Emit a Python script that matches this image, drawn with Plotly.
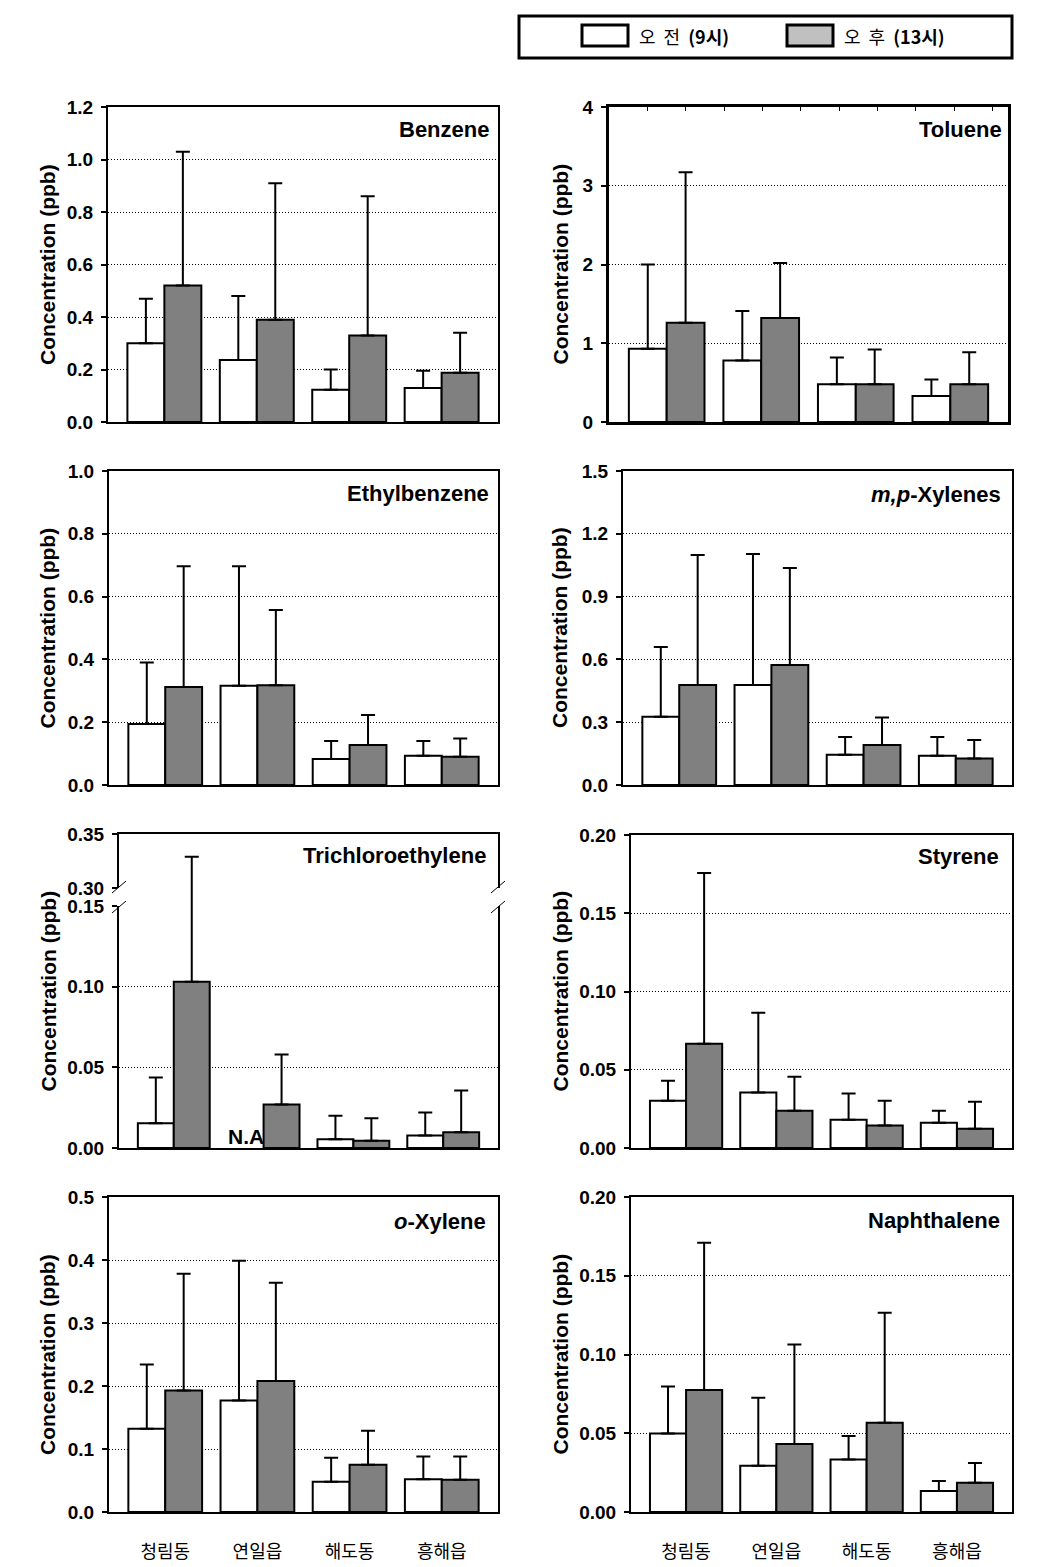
import plotly.graph_objects as go

W, H = 1042, 1567

sites = ["청림동", "연일읍", "해도동", "흥해읍"]
series_names = ["오 전 (9시)", "오 후 (13시)"]

benzene_am = [0.300, 0.236, 0.123, 0.130]
benzene_am_sd = [0.170, 0.244, 0.077, 0.065]
benzene_pm = [0.520, 0.390, 0.330, 0.188]
benzene_pm_sd = [0.510, 0.520, 0.530, 0.152]

toluene_am = [0.93, 0.78, 0.48, 0.33]
toluene_am_sd = [1.07, 0.63, 0.34, 0.21]
toluene_pm = [1.26, 1.32, 0.48, 0.48]
toluene_pm_sd = [1.91, 0.70, 0.44, 0.405]

ethylbenzene_am = [0.194, 0.316, 0.083, 0.093]
ethylbenzene_am_sd = [0.196, 0.381, 0.057, 0.047]
ethylbenzene_pm = [0.312, 0.318, 0.127, 0.090]
ethylbenzene_pm_sd = [0.385, 0.239, 0.096, 0.058]

mpxylene_am = [0.326, 0.478, 0.145, 0.140]
mpxylene_am_sd = [0.333, 0.626, 0.084, 0.089]
mpxylene_pm = [0.478, 0.573, 0.191, 0.126]
mpxylene_pm_sd = [0.621, 0.464, 0.131, 0.089]

tce_am = [0.0153, None, 0.0054, 0.0078]
tce_am_sd = [0.0284, None, 0.0146, 0.0142]
tce_pm = [0.103, 0.027, 0.0045, 0.0097]
tce_pm_sd = [0.226, 0.031, 0.0139, 0.0259]

styrene_am = [0.0302, 0.0355, 0.0181, 0.0162]
styrene_am_sd = [0.0128, 0.0509, 0.0168, 0.0076]
styrene_pm = [0.0666, 0.0238, 0.0143, 0.0123]
styrene_pm_sd = [0.1091, 0.0217, 0.0159, 0.0173]

oxylene_am = [0.132, 0.177, 0.048, 0.052]
oxylene_am_sd = [0.102, 0.222, 0.038, 0.036]
oxylene_pm = [0.193, 0.208, 0.075, 0.051]
oxylene_pm_sd = [0.185, 0.156, 0.054, 0.037]

naph_am = [0.0498, 0.0294, 0.0333, 0.0133]
naph_am_sd = [0.0299, 0.0431, 0.0150, 0.0064]
naph_pm = [0.0775, 0.0432, 0.0566, 0.0186]
naph_pm_sd = [0.0935, 0.0632, 0.0699, 0.0125]

AM_COLOR = "white"
PM_COLOR = "#808080"
PM_LEGEND_COLOR = "#C0C0C0"
LATIN = "Liberation Sans, Arial, sans-serif"
KOREAN = "Noto Sans CJK KR, Liberation Sans, sans-serif"


def xdom(a, b):
    return [a / W, b / W]


def ydom(top, bottom):
    return [1 - bottom / H, 1 - top / H]


def xr(i):
    return "x" if i == 1 else f"x{i}"


def yr(i):
    return "y" if i == 1 else f"y{i}"


panels = [
    dict(title="<b>Benzene</b>", am=benzene_am, am_sd=benzene_am_sd, pm=benzene_pm, pm_sd=benzene_pm_sd,
         xpx=(108, 498), ypx=(107, 422), yrange=[0, 1.2], dtick=0.2, fmt=".1f", lw=2, tx=0.981, ty=0.928,
         bottom=False, col=0),
    dict(title="<b>Toluene</b>", am=toluene_am, am_sd=toluene_am_sd, pm=toluene_pm, pm_sd=toluene_pm_sd,
         xpx=(609, 1008), ypx=(107, 422), yrange=[0, 4], dtick=1, fmt="d", lw=3, tx=0.99, ty=0.927,
         bottom=False, col=1),
    dict(title="<b>Ethylbenzene</b>", am=ethylbenzene_am, am_sd=ethylbenzene_am_sd, pm=ethylbenzene_pm,
         pm_sd=ethylbenzene_pm_sd, xpx=(109, 498), ypx=(471, 785), yrange=[0, 1.0], dtick=0.2, fmt=".1f",
         lw=2, tx=0.981, ty=0.929, bottom=False, col=0),
    dict(title="<b><i>m,p</i>-Xylenes</b>", am=mpxylene_am, am_sd=mpxylene_am_sd, pm=mpxylene_pm,
         pm_sd=mpxylene_pm_sd, xpx=(623, 1012), ypx=(471, 785), yrange=[0, 1.5], dtick=0.3, fmt=".1f",
         lw=2, tx=0.977, ty=0.926, bottom=False, col=1),
    dict(title="<b>Styrene</b>", am=styrene_am, am_sd=styrene_am_sd, pm=styrene_pm, pm_sd=styrene_pm_sd,
         xpx=(631, 1012), ypx=(835, 1148), yrange=[0, 0.2], dtick=0.05, fmt=".2f", lw=2, tx=0.970,
         ty=0.931, bottom=False, col=1),
    dict(title="<b><i>o</i>-Xylene</b>", am=oxylene_am, am_sd=oxylene_am_sd, pm=oxylene_pm,
         pm_sd=oxylene_pm_sd, xpx=(109, 498), ypx=(1197, 1512), yrange=[0, 0.5], dtick=0.1, fmt=".1f",
         lw=2, tx=0.974, ty=0.921, bottom=True, col=0),
    dict(title="<b>Naphthalene</b>", am=naph_am, am_sd=naph_am_sd, pm=naph_pm, pm_sd=naph_pm_sd,
         xpx=(631, 1012), ypx=(1197, 1512), yrange=[0, 0.2], dtick=0.05, fmt=".2f", lw=2, tx=0.975,
         ty=0.924, bottom=True, col=1),
]

XRANGE = [-0.61, 3.61]
tickfont = dict(family=LATIN, size=19, color="black", weight="bold")

fig = go.Figure()
layout = {}
annotations = []
shapes = []


def add_bars(idx, am, am_sd, pm, pm_sd, lw=2):
    for vals, sd, color in ((am, am_sd, AM_COLOR), (pm, pm_sd, PM_COLOR)):
        fig.add_trace(go.Bar(
            x=sites, y=vals,
            error_y=dict(type="data", array=sd, arrayminus=[0] * len(sd), symmetric=False,
                         color="black", thickness=2, width=7),
            marker=dict(color=color, line=dict(color="black", width=lw)),
            xaxis=xr(idx), yaxis=yr(idx), showlegend=False, hoverinfo="skip",
        ))


def axes(idx, xpx, ypx, yrange, dtick, fmt, lw, bottom, xside="bottom", xline_mirror=True,
         tickvals=None, hidden=False):
    xa = dict(domain=xdom(*xpx), anchor=yr(idx), range=XRANGE, type="category",
              showline=not hidden, linecolor="black", linewidth=lw, mirror=xline_mirror, side=xside,
              showgrid=False, zeroline=False, ticks="", fixedrange=True, automargin=False)
    if bottom:
        xa.update(showticklabels=True, tickfont=dict(family=KOREAN, size=18, color="black"),
                  ticklabelstandoff=22)
    else:
        xa.update(showticklabels=False)
    ya = dict(domain=ydom(*ypx), anchor=xr(idx), range=yrange, showline=True, linecolor="black",
              linewidth=lw, mirror=True, ticks="outside", ticklen=5, tickwidth=2, tickcolor="black",
              tickfont=tickfont, tickformat=fmt, showgrid=True, gridcolor="black", gridwidth=1,
              griddash="1px,2px", zeroline=False, fixedrange=True, ticklabelstandoff=4,
              automargin=False)
    if hidden:
        ya.update(showline=False, ticks="", showticklabels=False, showgrid=False)
    if tickvals is not None:
        ya.update(tickmode="array", tickvals=tickvals)
    else:
        ya.update(tick0=0, dtick=dtick)
    sx = "" if idx == 1 else str(idx)
    layout[f"xaxis{sx}"] = xa
    layout[f"yaxis{sx}"] = ya


idx = 0
for p in panels:
    idx += 1
    add_bars(idx, p["am"], p["am_sd"], p["pm"], p["pm_sd"], lw=2)
    axes(idx, p["xpx"], p["ypx"], p["yrange"], p["dtick"], p["fmt"], p["lw"], p["bottom"])
    annotations.append(dict(text=p["title"], xref=xr(idx) + " domain", yref=yr(idx) + " domain",
                            x=p["tx"], y=p["ty"], xanchor="right", yanchor="middle", showarrow=False,
                            font=dict(family=LATIN, size=22, color="black")))
    ycenter = (p["ypx"][0] + p["ypx"][1]) / 2
    annotations.append(dict(text="<b>Concentration (ppb)</b>", xref="paper", yref="paper",
                            x=(47.5 if p["col"] == 0 else 560) / W, y=1 - ycenter / H,
                            textangle=-90, showarrow=False, xanchor="center", yanchor="middle",
                            font=dict(family=LATIN, size=21, color="black")))

# Toluene panel: small inside ticks along its top edge (secondary top axis)
layout["xaxis20"] = dict(overlaying="x2", anchor="y2", side="top", range=[0, 10.4], tick0=1, dtick=1,
                         ticks="inside", ticklen=4, tickwidth=1, tickcolor="black",
                         showticklabels=False, showgrid=False, showline=False, zeroline=False,
                         fixedrange=True, automargin=False)
fig.add_trace(go.Scatter(x=[None], y=[None], xaxis="x20", yaxis="y2", showlegend=False,
                         hoverinfo="skip", mode="markers"))

# Trichloroethylene with broken axis: lower part, hidden gap part, upper part
tce_x = (119, 498)
idx += 1
low = idx
add_bars(low, tce_am, tce_am_sd, tce_pm, tce_pm_sd)
axes(low, tce_x, (906, 1148), [0, 0.15], 0.05, ".2f", 2, False, xline_mirror=False,
     tickvals=[0, 0.05, 0.10, 0.15])
idx += 1
gap = idx
add_bars(gap, tce_am, tce_am_sd, tce_pm, tce_pm_sd)
axes(gap, tce_x, (888, 906), [0.15, 0.30], 0.05, ".2f", 2, False, hidden=True)
idx += 1
up = idx
add_bars(up, tce_am, tce_am_sd, tce_pm, tce_pm_sd)
axes(up, tce_x, (834, 888), [0.30, 0.35], 0.05, ".2f", 2, False, xside="top", xline_mirror=False,
     tickvals=[0.30, 0.35])

annotations.append(dict(text="<b>Trichloroethylene</b>", xref=xr(up) + " domain", yref="paper",
                        x=0.973, y=1 - 855 / H, xanchor="right", yanchor="middle", showarrow=False,
                        font=dict(family=LATIN, size=22, color="black")))
annotations.append(dict(text="<b>N.A</b>", xref=xr(low), yref=yr(low), x=0.8, y=0,
                        xanchor="center", yanchor="bottom", showarrow=False, yshift=-2,
                        font=dict(family=LATIN, size=21, color="black")))
annotations.append(dict(text="<b>Concentration (ppb)</b>", xref="paper", yref="paper",
                        x=47.5 / W, y=1 - 991 / H, textangle=-90, showarrow=False,
                        xanchor="center", yanchor="middle",
                        font=dict(family=LATIN, size=21, color="black")))

# axis break marks
for xc in (tce_x[0], tce_x[1]):
    for yc in (887, 907):
        shapes.append(dict(type="line", xref="paper", yref="paper",
                           x0=(xc - 7) / W, y0=1 - (yc + 6) / H, x1=(xc + 7) / W, y1=1 - (yc - 6) / H,
                           line=dict(color="black", width=1)))

# legend box (drawn)
shapes.append(dict(type="rect", xref="paper", yref="paper", x0=519 / W, x1=1012 / W,
                   y0=1 - 58 / H, y1=1 - 16 / H, line=dict(color="black", width=3), fillcolor="white"))
shapes.append(dict(type="rect", xref="paper", yref="paper", x0=582 / W, x1=628 / W,
                   y0=1 - 46 / H, y1=1 - 25 / H, line=dict(color="black", width=3), fillcolor=AM_COLOR))
shapes.append(dict(type="rect", xref="paper", yref="paper", x0=787 / W, x1=833 / W,
                   y0=1 - 46 / H, y1=1 - 25 / H, line=dict(color="black", width=3),
                   fillcolor=PM_LEGEND_COLOR))
annotations.append(dict(text="오&nbsp; 전&nbsp; <b>(9시)</b>", xref="paper", yref="paper",
                        x=637 / W, y=1 - 36 / H, xanchor="left", yanchor="middle", showarrow=False,
                        font=dict(family=KOREAN, size=18, color="black")))
annotations.append(dict(text="오&nbsp; 후&nbsp; <b>(13시)</b>", xref="paper", yref="paper",
                        x=842 / W, y=1 - 36 / H, xanchor="left", yanchor="middle", showarrow=False,
                        font=dict(family=KOREAN, size=18, color="black")))

fig.update_layout(
    width=W, height=H, margin=dict(l=0, r=0, t=0, b=0, autoexpand=False),
    paper_bgcolor="white", plot_bgcolor="white",
    barmode="group", bargap=0.2, bargroupgap=0,
    annotations=annotations, shapes=shapes, showlegend=False,
    **layout,
)

fig.write_html("out.html", config={"displayModeBar": False})
